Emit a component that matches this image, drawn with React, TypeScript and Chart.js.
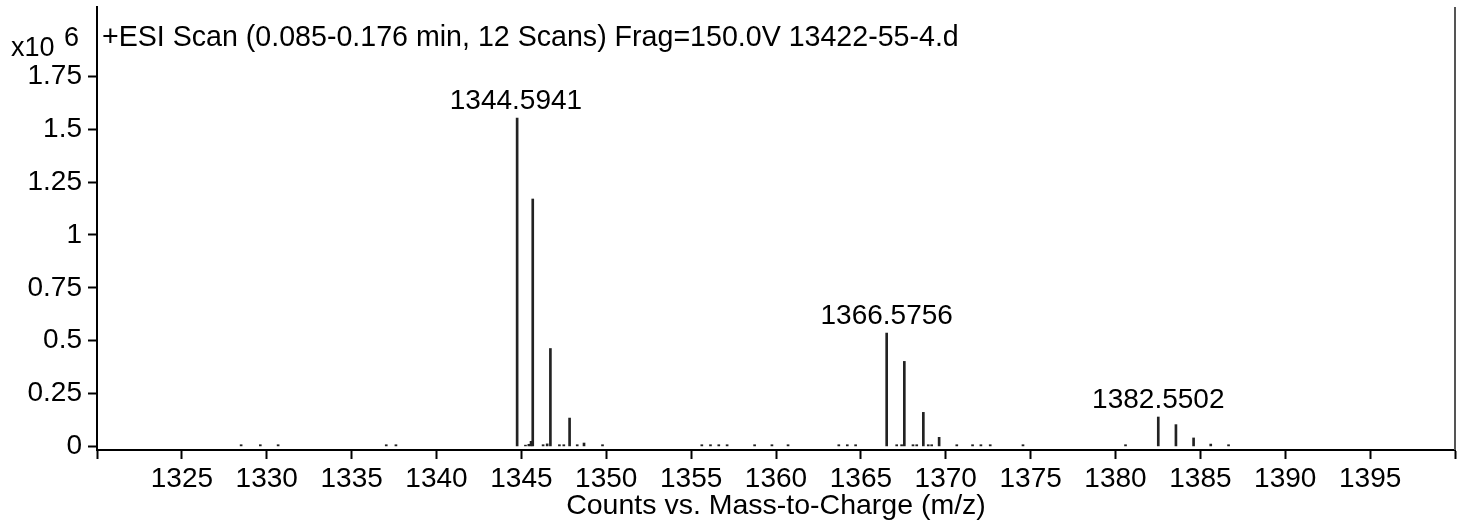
import React, { useEffect, useRef } from 'react';
import { Chart, registerables } from 'chart.js';

Chart.register(...registerables);

// m/z positions of the centroid sticks (as drawn)
const mzValues: number[] = [
  1328.49, 1329.62, 1330.67, 1337.04, 1337.61,
  1344.75, 1345.24, 1345.44, 1345.57, 1345.67, 1346.28, 1346.52, 1346.71,
  1347.24, 1347.5, 1347.84, 1348.29, 1348.69, 1349.78,
  1355.63, 1356.14, 1356.63, 1357.12, 1358.74, 1359.76, 1360.71,
  1363.7, 1364.2, 1364.69,
  1366.52, 1367.11, 1367.4, 1367.56, 1368.07, 1368.29, 1368.68, 1368.97, 1369.17, 1369.61,
  1370.65, 1371.58, 1372.07, 1372.62, 1374.55, 1380.59,
  1382.52, 1383.56, 1384.6, 1385.61, 1386.66,
];
// intensities (x10^6 counts)
const intensities: number[] = [
  0.008, 0.008, 0.008, 0.008, 0.008,
  1.553, 0.006, 0.01, 0.024, 1.17, 0.008, 0.012, 0.463,
  0.008, 0.008, 0.134, 0.008, 0.016, 0.008,
  0.008, 0.008, 0.008, 0.008, 0.008, 0.008, 0.008,
  0.008, 0.008, 0.008,
  0.536, 0.008, 0.008, 0.402, 0.008, 0.008, 0.161, 0.008, 0.008, 0.043,
  0.008, 0.008, 0.008, 0.008, 0.008, 0.008,
  0.139, 0.103, 0.04, 0.011, 0.008,
];

// annotated peaks
const labelMz: number[] = [1344.68, 1366.52, 1382.52];
const labelIntensity: number[] = [1.553, 0.536, 0.139];
const labelText: string[] = ['1344.5941', '1366.5756', '1382.5502'];

const xTickValues: number[] = [1320, 1325, 1330, 1335, 1340, 1345, 1350, 1355, 1360, 1365, 1370, 1375, 1380, 1385, 1390, 1395, 1400];
const xTickLabels: string[] = ['', '1325', '1330', '1335', '1340', '1345', '1350', '1355', '1360', '1365', '1370', '1375', '1380', '1385', '1390', '1395', ''];
const yTickValues: number[] = [0, 0.25, 0.5, 0.75, 1, 1.25, 1.5, 1.75];
const yTickLabels: string[] = ['0', '0.25', '0.5', '0.75', '1', '1.25', '1.5', '1.75'];

const titleText = '+ESI Scan (0.085-0.176 min, 12 Scans) Frag=150.0V 13422-55-4.d';
const xAxisTitle = 'Counts vs. Mass-to-Charge (m/z)';
const yExponentBase = 'x10';
const yExponent = '6';

const FONT = '"Liberation Sans", Arial, sans-serif';
const FS = 28;

const overlayPlugin = {
  id: 'overlay',
  afterDraw(chart: any) {
    const { ctx, chartArea, scales } = chart;
    const xs = scales.x;
    const ys = scales.y;
    ctx.save();
    // right frame line
    ctx.strokeStyle = '#555';
    ctx.lineWidth = 2;
    ctx.beginPath();
    ctx.moveTo(chartArea.right, chartArea.top);
    ctx.lineTo(chartArea.right, chartArea.bottom);
    ctx.stroke();

    ctx.fillStyle = '#000';
    ctx.font = `28.6px ${FONT}`;
    ctx.textAlign = 'left';
    ctx.textBaseline = 'alphabetic';
    ctx.fillText(titleText, chartArea.left + 5, 46);

    ctx.font = `27px ${FONT}`;
    ctx.fillText(yExponentBase, 11, 56);
    ctx.fillText(yExponent, 64, 46);

    ctx.font = `${FS}px ${FONT}`;
    ctx.textAlign = 'center';
    for (let i = 0; i < labelText.length; i++) {
      const px = xs.getPixelForValue(labelMz[i]);
      const py = ys.getPixelForValue(labelIntensity[i]);
      ctx.fillText(labelText[i], px, py - 9);
    }
    ctx.restore();
  },
};

export default function App() {
  const ref = useRef<HTMLCanvasElement | null>(null);
  useEffect(() => {
    if (!ref.current) return;
    const chart = new Chart(ref.current, {
      type: 'bar',
      data: {
        datasets: [
          {
            data: mzValues.map((m, i) => ({ x: m, y: intensities[i] })),
            backgroundColor: '#222',
            borderWidth: 0,
            barThickness: 2,
            grouped: false,
          } as any,
        ],
      },
      options: {
        animation: false,
        responsive: false,
        maintainAspectRatio: false,
        devicePixelRatio: 1,
        layout: { padding: { left: 0, top: 7, right: 8, bottom: 0 } },
        plugins: {
          legend: { display: false },
          tooltip: { enabled: false },
          title: { display: false },
        },
        scales: {
          x: {
            type: 'linear',
            min: 1320,
            max: 1400,
            offset: false,
            afterBuildTicks: (s: any) => {
              s.ticks = xTickValues.map((v) => ({ value: v }));
            },
            afterFit: (s: any) => {
              s.height = 73;
              s.paddingLeft = 0;
              s.paddingRight = 0;
            },
            ticks: {
              autoSkip: false,
              maxRotation: 0,
              color: '#000',
              padding: 3,
              font: { family: FONT, size: FS },
              callback: (v: any) => {
                const i = xTickValues.indexOf(Number(v));
                return i >= 0 ? xTickLabels[i] : '';
              },
            },
            grid: { drawOnChartArea: false, drawTicks: true, tickLength: 9, tickColor: '#000', tickWidth: 2, offset: false } as any,
            border: { color: '#000', width: 2 },
            title: {
              display: true,
              text: xAxisTitle,
              color: '#000',
              font: { family: FONT, size: 28.5 },
              padding: { top: 0, bottom: 0 },
            },
          },
          y: {
            type: 'linear',
            min: -0.017,
            max: 2.078,
            afterBuildTicks: (s: any) => {
              s.ticks = yTickValues.map((v) => ({ value: v }));
            },
            afterFit: (s: any) => {
              s.width = 97;
              s.paddingTop = 0;
              s.paddingBottom = 0;
            },
            ticks: {
              color: '#000',
              padding: 6,
              font: { family: FONT, size: FS },
              callback: (v: any) => {
                const i = yTickValues.indexOf(Number(v));
                return i >= 0 ? yTickLabels[i] : '';
              },
            },
            grid: { drawOnChartArea: false, drawTicks: true, tickLength: 9, tickColor: '#000', tickWidth: 2 } as any,
            border: { color: '#000', width: 2 },
          },
        },
      } as any,
      plugins: [overlayPlugin],
    });
    return () => chart.destroy();
  }, []);
  return (
    <div style={{ position: 'fixed', left: 0, top: 0, width: 1463, height: 523, background: '#fff' }}>
      <canvas ref={ref} width={1463} height={523} style={{ display: 'block', width: 1463, height: 523 }} />
    </div>
  );
}
